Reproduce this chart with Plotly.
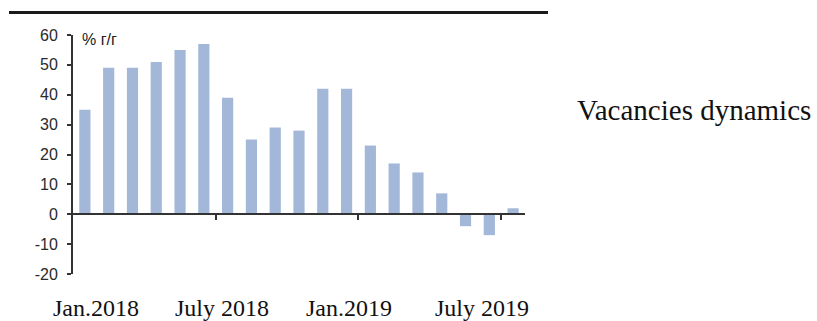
import plotly.graph_objects as go

# ---- data ----
months = ["Jan 2018", "Feb 2018", "Mar 2018", "Apr 2018", "May 2018", "Jun 2018",
          "Jul 2018", "Aug 2018", "Sep 2018", "Oct 2018", "Nov 2018", "Dec 2018",
          "Jan 2019", "Feb 2019", "Mar 2019", "Apr 2019", "May 2019", "Jun 2019",
          "Jul 2019"]
values = [35, 49, 49, 51, 55, 57, 39, 25, 29, 28, 42, 42, 23, 17, 14, 7, -4, -7, 2]
period_labels = ["Jan.2018", "July 2018", "Jan.2019", "July 2019"]
y_ticks = [-20, -10, 0, 10, 20, 30, 40, 50, 60]
y_tick_text = ["-20", "-10", "0", "10", "20", "30", "40", "50", "60"]
unit_label = "% г/г"
title_text = "Vacancies dynamics"

W, H = 817, 321
L, R, T, B = 73, 292, 35, 47
PW, PH = W - L - R, H - T - B

def px(x):
    return (x - L) / PW

def py(y):
    return (H - B - y) / PH

idx = list(range(len(values)))

fig = go.Figure(go.Bar(x=idx, y=values, marker_color="#a3b7d9",
                       marker_line_width=0, hovertext=months))

fig.update_layout(
    width=W, height=H,
    margin=dict(l=L, r=R, t=T, b=B),
    paper_bgcolor="white", plot_bgcolor="white",
    bargap=0.53, showlegend=False,
    font=dict(family="Liberation Sans, Arial", size=15, color="#222"),
)
fig.update_yaxes(range=[-20, 60], tickvals=y_ticks, ticktext=y_tick_text,
                 showgrid=False, zeroline=False,
                 showline=True, linecolor="#333", linewidth=2,
                 ticks="outside", ticklen=4, tickwidth=2, tickcolor="#333",
                 ticklabelstandoff=6,
                 tickfont=dict(size=16, color="#2a2a2a"))
fig.update_xaxes(range=[-0.5, len(values) - 0.5], anchor="free", position=0.25,
                 showgrid=False, zeroline=False, showline=True, linecolor="#333",
                 linewidth=2, ticks="outside", ticklen=5, tickwidth=2, tickcolor="#333",
                 tickvals=[5.5, 11.5, 17.5], showticklabels=False)

# top rule
fig.add_shape(type="line", xref="paper", yref="paper", x0=px(9), x1=px(548),
              y0=py(12.5), y1=py(12.5), line=dict(color="#1a1a1a", width=3))

# unit label
fig.add_annotation(text=unit_label, xref="paper", yref="paper", x=px(80), y=py(39),
                   xanchor="left", yanchor="middle", showarrow=False,
                   font=dict(size=16, color="#222"))

# period labels
label_x = [96, 222, 349, 482]
for lab, xx in zip(period_labels, label_x):
    fig.add_annotation(text=lab, xref="paper", yref="paper", x=px(xx), y=py(308),
                       xanchor="center", yanchor="middle", showarrow=False,
                       font=dict(family="Liberation Serif, Times New Roman", size=24, color="#111"))

# title
fig.add_annotation(text=title_text, xref="paper", yref="paper", x=px(575), y=py(110),
                   xanchor="left", yanchor="middle", showarrow=False,
                   font=dict(family="Liberation Serif, Times New Roman", size=29, color="#111"))

fig.write_html("out.html")
